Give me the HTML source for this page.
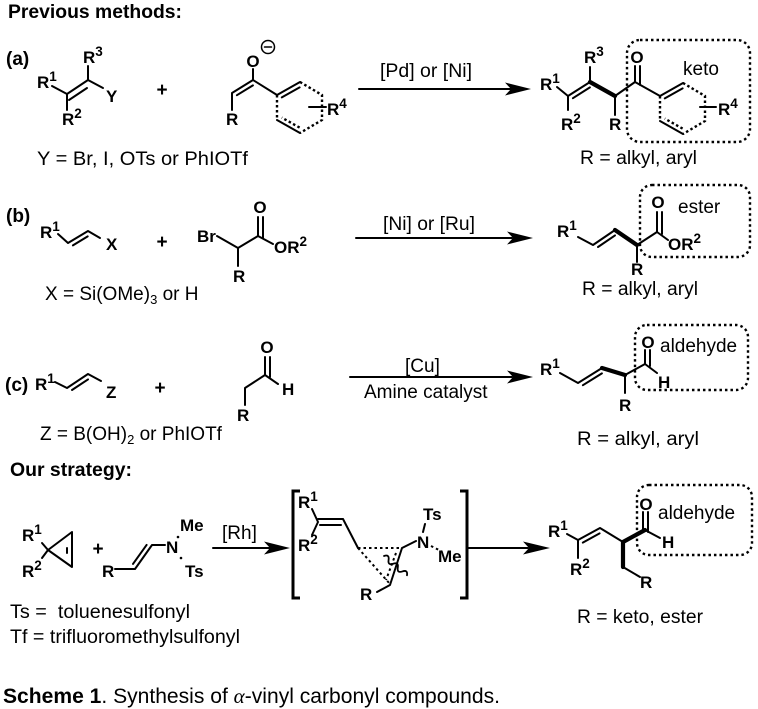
<!DOCTYPE html>
<html><head><meta charset="utf-8"><style>
html,body{margin:0;padding:0;background:#fff;}
svg{display:block;}
text{font-family:"Liberation Sans",Arial,sans-serif;fill:#000;}
.b{font-weight:bold;font-size:17px;}
.t{font-size:19px;}
.h{font-weight:bold;font-size:19px;}
.s{font-size:13.5px;}
.sb{font-size:13px;}
</style></head><body>
<svg width="758" height="709" viewBox="0 0 758 709" xmlns="http://www.w3.org/2000/svg">
<defs>
<g id="ring">
  <path d="M277,95 L300,82 M277,120 L300,133 M281.8,97.4 L299.6,87.4" stroke="#000" stroke-width="2" fill="none" stroke-linecap="round"/>
  <path d="M300,82 L322,95 L322,120 L300,133 M277,95 L277,120 M299.6,127.6 L281.8,117.6" stroke="#000" stroke-width="2.4" fill="none" stroke-dasharray="2.5,2.5"/>
</g>
</defs>

<!-- headers -->
<text class="h" x="8" y="18" textLength="174" lengthAdjust="spacingAndGlyphs">Previous methods:</text>
<text class="h" x="6" y="65">(a)</text>
<text class="h" x="6" y="222">(b)</text>
<text class="h" x="5" y="391">(c)</text>
<text class="h" x="10" y="476" textLength="122" lengthAdjust="spacingAndGlyphs">Our strategy:</text>

<g stroke="#000" stroke-width="2" fill="none" stroke-linecap="round" stroke-linejoin="round">
  <!-- (a) reactant 1 -->
  <path d="M52,86 L67,94 L88,80 L103,88 M88,80 L88,66 M67,94 L67,110 M69,100 L87,88"/>
  <!-- enolate -->
  <path d="M253,69 L253,80 L232,93 L232,110 M252.9,85.4 L236.9,95.2 M253,80 L277,95"/>
  <circle cx="268" cy="47" r="6.5" stroke-width="1.5"/>
  <path d="M264.5,47 L271.5,47" stroke-width="1.5"/>
  <path d="M309,107 L326,107"/>
  <!-- arrow a -->
  <path d="M359,89 L512,89"/>
  <!-- product a -->
  <path d="M557,87 L568,96 L590,82 M590,82 L590,67 M568,96 L568,110 M572.9,98.2 L589.9,87.4"/>
  <path d="M590,82 L615,96" stroke-width="4.2"/>
  <path d="M615,96 L615,115 M615,96 L635,82 L660,96 M635,82 L635,66 M640,85 L640,66"/>
  <path d="M700,107 L716,107"/>

  <!-- (b) reactant -->
  <path d="M58,234 L68,243 L88,231 L100,238 M72.9,245.4 L87.7,236.4"/>
  <path d="M217,236 L238,248 L258,236 L273,244 M238,248 L238,266 M258,236 L258,217 M263,238 L263,217"/>
  <path d="M356,238 L512,238"/>
  <!-- product b -->
  <path d="M578,237 L593,245 L615,230 M598,247 L615,235.4"/>
  <path d="M615,230 L637,245" stroke-width="4.2"/>
  <path d="M637,245 L637,262 M637,245 L657,232 L668,240 M657,232 L657,212 M662,234 L662,212"/>

  <!-- (c) reactant -->
  <path d="M55,382 L67,388 L88,374 L101,381 M72,390 L88,379.4"/>
  <path d="M245,405 L245,388 L265,375 L278,384 M265,375 L265,357 M270,377 L270,357"/>
  <path d="M350,377 L512,377"/>
  <!-- product c -->
  <path d="M560,373 L578,383 L602,368 M582.9,385.2 L601.9,373.4"/>
  <path d="M602,368 L625,375" stroke-width="4.2"/>
  <path d="M625,375 L625,393 M625,375 L645,364 L657,373 M645,364 L645,350 M650,366 L650,350"/>

  <!-- strategy -->
  <path d="M42,543 L48,550 L42,558 M48,550 L72,532 L72,567 Z M67,548 L67,553"/>
  <path d="M115,569 L135,569 L152,545 L165,545 M133,563.9 L146.6,544.9"/>
  <path d="M213,548 L270,548"/>
  <path d="M300,491 L293,491 L293,598 L300,598 M460,491 L467,491 L467,598 L460,598" stroke-width="3" stroke-linecap="butt" stroke-linejoin="miter"/>
  <!-- intermediate -->
  <path d="M312,509 L318,522 L312,535 M318,519 L343,519 M320,525 L341,525 M343,519 L358,548"/>
  <path d="M402,548 L390,585 L377,592 M402,548 L416,541 M423,532 L425,524"/>
  <path d="M0,0 q3,-5 6,0 t6,0 t6,0 t6,0 t6,0" transform="translate(384,556) rotate(40)" stroke-width="1.8"/>
  <path d="M468,548 L528,548"/>
  <!-- product strategy -->
  <path d="M567,534 L578,540 L600,528 L623,542 M578,540 L578,558 M582.8,542.6 L599.6,533.4"/>
  <path d="M623,542 L645,530 M623,542 L623,567" stroke-width="4.2"/>
  <path d="M623,567 L640,577 M643,530 L643,512 M648,532 L648,512 M645,530 L660,538"/>
</g>

<!-- dotted elements -->
<g stroke="#000" fill="none" stroke-width="2.4" stroke-dasharray="2.5,3">
  <rect x="627" y="40" width="123" height="102" rx="13"/>
  <rect x="640" y="185" width="110" height="72" rx="12"/>
  <rect x="635" y="325" width="113" height="65" rx="12"/>
  <rect x="637" y="485" width="115" height="70" rx="12"/>
  <path d="M358,548 L402,548 M358,548 L390,584 M396,553 L386,580 M431,546 L441,551" stroke-width="2"/>
</g>
<circle cx="178" cy="537" r="1.3" fill="#000"/>
<circle cx="181" cy="558" r="1.3" fill="#000"/>

<!-- rings -->
<use href="#ring"/>
<use href="#ring" x="383" y="1"/>

<!-- arrowheads -->
<g fill="#000">
  <polygon points="531,89 505,82.5 511,89 505,95.5"/>
  <polygon points="533,238 507,231.5 513,238 507,244.5"/>
  <polygon points="533,377 507,370.5 513,377 507,383.5"/>
  <polygon points="290,548 264,541.5 270,548 264,554.5"/>
  <polygon points="550,548 523,541.5 529,548 523,554.5"/>
</g>

<!-- (a) labels -->
<text class="b" x="37" y="88">R<tspan class="s" dy="-7">1</tspan></text>
<text class="b" x="83" y="63">R<tspan class="s" dy="-7">3</tspan></text>
<text class="b" x="106" y="102">Y</text>
<text class="b" x="62" y="125">R<tspan class="s" dy="-7">2</tspan></text>
<text class="h" x="162" y="96" text-anchor="middle">+</text>
<text class="b" x="253" y="67" text-anchor="middle">O</text>
<text class="b" x="226" y="125">R</text>
<text class="b" x="327" y="115">R<tspan class="s" dy="-7">4</tspan></text>
<text class="t" x="380" y="77" textLength="92" lengthAdjust="spacingAndGlyphs">[Pd] or [Ni]</text>
<text class="t" x="37" y="165" textLength="211" lengthAdjust="spacingAndGlyphs">Y = Br, I, OTs or PhIOTf</text>
<text class="b" x="540" y="90">R<tspan class="s" dy="-7">1</tspan></text>
<text class="b" x="584" y="63">R<tspan class="s" dy="-7">3</tspan></text>
<text class="b" x="561" y="130">R<tspan class="s" dy="-7">2</tspan></text>
<text class="b" x="609" y="130">R</text>
<text class="b" x="637" y="63" text-anchor="middle">O</text>
<text class="b" x="718" y="115">R<tspan class="s" dy="-7">4</tspan></text>
<text class="t" x="683" y="75">keto</text>
<text class="t" x="580" y="164" textLength="117" lengthAdjust="spacingAndGlyphs">R = alkyl, aryl</text>

<!-- (b) labels -->
<text class="b" x="40" y="238">R<tspan class="s" dy="-7">1</tspan></text>
<text class="b" x="106" y="250">X</text>
<text class="h" x="162" y="248" text-anchor="middle">+</text>
<text class="b" x="197" y="242">Br</text>
<text class="b" x="233" y="282">R</text>
<text class="b" x="260" y="213" text-anchor="middle">O</text>
<text class="b" x="274" y="253">OR<tspan class="s" dy="-7">2</tspan></text>
<text class="t" x="45" y="300">X = Si(OMe)<tspan class="sb" dy="4">3</tspan><tspan dy="-4"> or H</tspan></text>
<text class="t" x="383" y="230" textLength="92" lengthAdjust="spacingAndGlyphs">[Ni] or [Ru]</text>
<text class="b" x="557" y="237">R<tspan class="s" dy="-7">1</tspan></text>
<text class="b" x="631" y="275">R</text>
<text class="b" x="658" y="208" text-anchor="middle">O</text>
<text class="b" x="668" y="250">OR<tspan class="s" dy="-7">2</tspan></text>
<text class="t" x="678" y="213">ester</text>
<text class="t" x="582" y="295" textLength="116" lengthAdjust="spacingAndGlyphs">R = alkyl, aryl</text>

<!-- (c) labels -->
<text class="b" x="35" y="390">R<tspan class="s" dy="-7">1</tspan></text>
<text class="b" x="106" y="398">Z</text>
<text class="h" x="160" y="394" text-anchor="middle">+</text>
<text class="b" x="267" y="353" text-anchor="middle">O</text>
<text class="b" x="282" y="395">H</text>
<text class="b" x="237" y="421">R</text>
<text class="t" x="40" y="440">Z = B(OH)<tspan class="sb" dy="4">2</tspan><tspan dy="-4"> or PhIOTf</tspan></text>
<text class="t" x="405" y="372">[Cu]</text>
<text class="t" x="364" y="398">Amine catalyst</text>
<text class="b" x="540" y="375">R<tspan class="s" dy="-7">1</tspan></text>
<text class="b" x="619" y="411">R</text>
<text class="b" x="648" y="348" text-anchor="middle">O</text>
<text class="b" x="658" y="388">H</text>
<text class="t" x="660" y="352">aldehyde</text>
<text class="t" x="577" y="445" textLength="122" lengthAdjust="spacingAndGlyphs">R = alkyl, aryl</text>

<!-- strategy labels -->
<text class="b" x="22" y="541">R<tspan class="s" dy="-7">1</tspan></text>
<text class="b" x="22" y="577">R<tspan class="s" dy="-7">2</tspan></text>
<text class="h" x="98" y="555" text-anchor="middle">+</text>
<text class="b" x="102" y="577">R</text>
<text class="b" x="166" y="553">N</text>
<text class="b" x="180" y="531">Me</text>
<text class="b" x="185" y="577">Ts</text>
<text class="t" x="222" y="539">[Rh]</text>
<text class="t" x="10" y="618" textLength="180" lengthAdjust="spacingAndGlyphs">Ts = &#160;toluenesulfonyl</text>
<text class="t" x="10" y="643" textLength="230" lengthAdjust="spacingAndGlyphs">Tf = trifluoromethylsulfonyl</text>

<text class="b" x="298" y="508">R<tspan class="s" dy="-7">1</tspan></text>
<text class="b" x="298" y="551">R<tspan class="s" dy="-7">2</tspan></text>
<text class="b" x="417" y="548">N</text>
<text class="b" x="423" y="520">Ts</text>
<text class="b" x="438" y="562">Me</text>
<text class="b" x="360" y="600">R</text>

<text class="b" x="548" y="537">R<tspan class="s" dy="-7">1</tspan></text>
<text class="b" x="570" y="575">R<tspan class="s" dy="-7">2</tspan></text>
<text class="b" x="646" y="510" text-anchor="middle">O</text>
<text class="b" x="662" y="548">H</text>
<text class="b" x="640" y="588">R</text>
<text class="t" x="658" y="519">aldehyde</text>
<text class="t" x="577" y="623" textLength="126" lengthAdjust="spacingAndGlyphs">R = keto, ester</text>

<!-- caption -->
<text x="3" y="703" style="font-size:21px" textLength="497" lengthAdjust="spacingAndGlyphs"><tspan font-weight="bold">Scheme 1</tspan>. Synthesis of <tspan font-family="Liberation Serif, serif" font-style="italic">α</tspan>-vinyl carbonyl compounds.</text>
</svg>
</body></html>
